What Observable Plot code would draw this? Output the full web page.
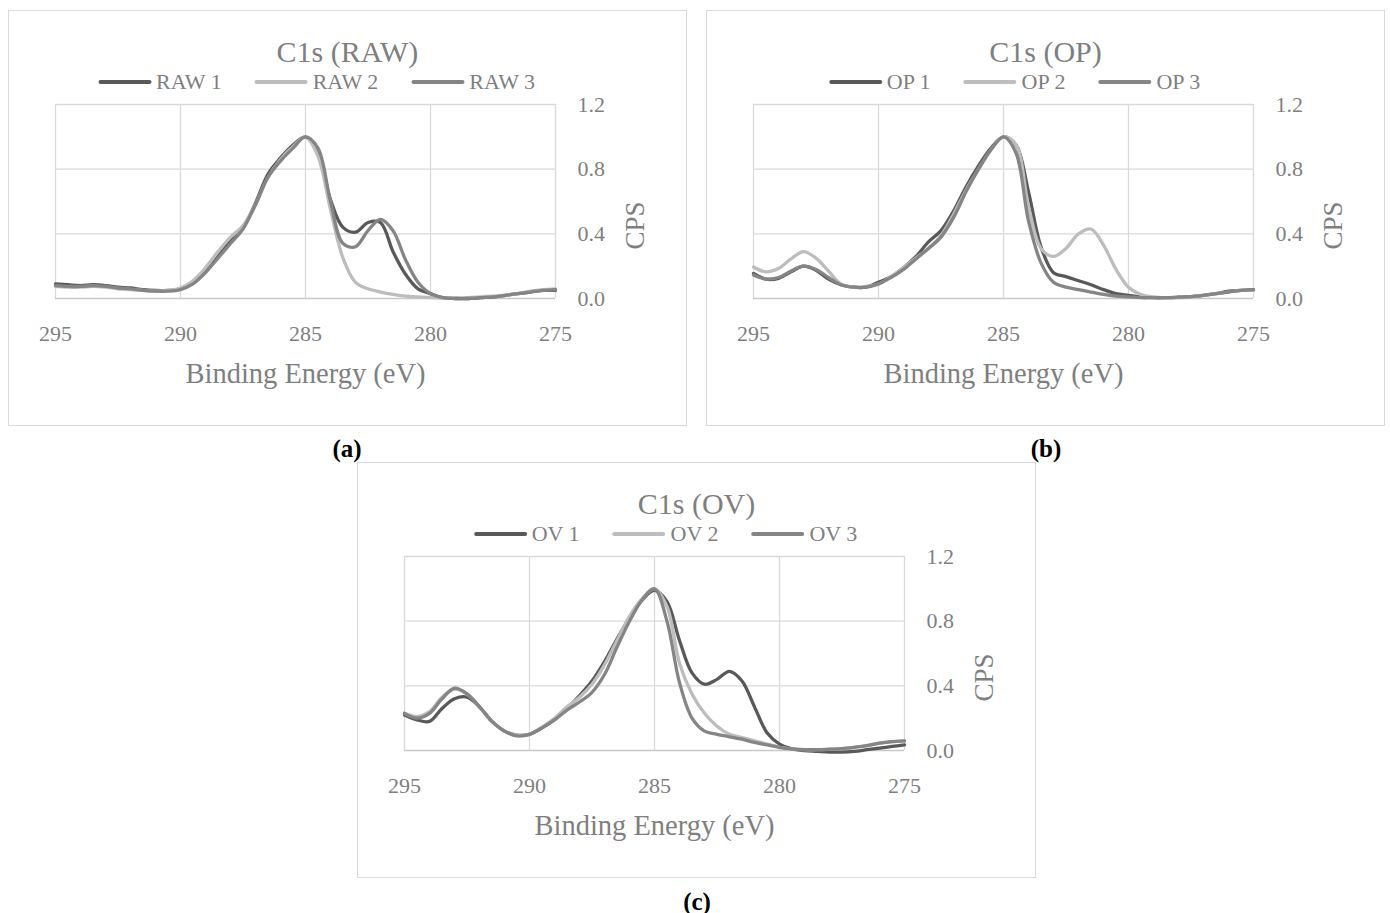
<!DOCTYPE html>
<html>
<head>
<meta charset="utf-8">
<script src="https://cdn.jsdelivr.net/npm/d3@7"></script>
<script src="https://cdn.jsdelivr.net/npm/@observablehq/plot@0.6"></script>
<style>
  body { margin: 0; background: #fff; font-family: "Liberation Serif", serif; }
  #page { position: relative; width: 1390px; height: 913px; background: #fff; }
  .box { position: absolute; box-sizing: border-box; width: 679px; height: 416px; border: 1px solid #d9d9d9; background: #fff; }
  .title { position: absolute; left: 0; right: 0; top: 26px; text-align: center; font-size: 30px; line-height: 30px; color: #7f7f7f; z-index: 2; }
  .legend { position: absolute; top: 60px; left: calc(50% - 31px); transform: translateX(-50%); display: flex; gap: 33px; white-space: nowrap; z-index: 2; }
  .item { display: flex; align-items: center; font-size: 22px; line-height: 22px; color: #7f7f7f; }
  .swatch { width: 53px; height: 4px; margin-right: 5px; border-radius: 2px; }
  .plot { position: absolute; left: 0; top: 0; }
  .cap { position: absolute; font-weight: bold; font-size: 25px; line-height: 25px; color: #000; transform: translateX(-50%); }
</style>
</head>
<body>
<div id="page"></div>
<script>
// ---- data ----
const energy = [295, 294.5, 294, 293.5, 293, 292.5, 292, 291.5, 291, 290.5, 290, 289.5, 289, 288.5, 288, 287.5, 287, 286.5, 286, 285.5, 285, 284.5, 284, 283.5, 283, 282.5, 282, 281.5, 281, 280.5, 280, 279.5, 279, 278.5, 278, 277.5, 277, 276.5, 276, 275.5, 275];
const xTicks = [295, 290, 285, 280, 275];
const yTicks = [0, 0.4, 0.8, 1.2];
const seriesColors = ["#595959", "#bdbdbd", "#858585"];

const rawNames = ["RAW 1", "RAW 2", "RAW 3"];
const raw1 = [0.09, 0.085, 0.08, 0.085, 0.08, 0.07, 0.065, 0.055, 0.05, 0.05, 0.06, 0.10, 0.17, 0.27, 0.36, 0.44, 0.59, 0.77, 0.87, 0.95, 1.0, 0.90, 0.61, 0.44, 0.41, 0.47, 0.47, 0.29, 0.15, 0.06, 0.03, 0.005, 0.0, 0.0, 0.005, 0.01, 0.02, 0.03, 0.04, 0.05, 0.05];
const raw2 = [0.075, 0.07, 0.07, 0.075, 0.07, 0.06, 0.055, 0.05, 0.045, 0.05, 0.065, 0.11, 0.19, 0.29, 0.38, 0.45, 0.58, 0.75, 0.86, 0.94, 1.0, 0.88, 0.55, 0.25, 0.10, 0.06, 0.04, 0.025, 0.015, 0.01, 0.005, 0.003, 0.003, 0.005, 0.01, 0.015, 0.02, 0.03, 0.045, 0.055, 0.06];
const raw3 = [0.08, 0.075, 0.075, 0.08, 0.075, 0.065, 0.06, 0.05, 0.045, 0.045, 0.055, 0.09, 0.16, 0.25, 0.34, 0.43, 0.58, 0.75, 0.85, 0.93, 1.0, 0.93, 0.60, 0.34, 0.32, 0.42, 0.49, 0.42, 0.24, 0.10, 0.03, 0.005, 0.0, 0.0, 0.005, 0.01, 0.02, 0.03, 0.04, 0.05, 0.055];

const opNames = ["OP 1", "OP 2", "OP 3"];
const op1 = [0.155, 0.12, 0.125, 0.165, 0.20, 0.175, 0.12, 0.085, 0.07, 0.07, 0.10, 0.135, 0.19, 0.26, 0.35, 0.42, 0.54, 0.69, 0.82, 0.93, 1.0, 0.95, 0.66, 0.32, 0.16, 0.135, 0.11, 0.085, 0.055, 0.03, 0.02, 0.01, 0.005, 0.005, 0.008, 0.012, 0.02, 0.03, 0.045, 0.05, 0.055];
const op2 = [0.195, 0.165, 0.185, 0.245, 0.29, 0.25, 0.17, 0.09, 0.07, 0.075, 0.09, 0.135, 0.19, 0.25, 0.31, 0.39, 0.52, 0.67, 0.80, 0.92, 1.0, 0.95, 0.57, 0.31, 0.26, 0.31, 0.40, 0.43, 0.33, 0.18, 0.07, 0.025, 0.01, 0.005, 0.005, 0.01, 0.02, 0.03, 0.04, 0.05, 0.05];
const op3 = [0.145, 0.12, 0.13, 0.17, 0.20, 0.18, 0.13, 0.085, 0.07, 0.07, 0.09, 0.13, 0.18, 0.245, 0.31, 0.38, 0.50, 0.66, 0.80, 0.92, 1.0, 0.90, 0.48, 0.22, 0.10, 0.07, 0.055, 0.04, 0.025, 0.015, 0.01, 0.005, 0.005, 0.005, 0.008, 0.012, 0.02, 0.03, 0.04, 0.05, 0.055];

const ovNames = ["OV 1", "OV 2", "OV 3"];
const ov1 = [0.22, 0.19, 0.18, 0.26, 0.32, 0.33, 0.27, 0.18, 0.12, 0.095, 0.10, 0.14, 0.19, 0.26, 0.34, 0.43, 0.55, 0.69, 0.82, 0.93, 0.99, 0.92, 0.68, 0.48, 0.41, 0.44, 0.49, 0.43, 0.27, 0.11, 0.04, 0.01, 0.0, -0.005, -0.01, -0.01, -0.005, 0.005, 0.015, 0.025, 0.035];
const ov2 = [0.23, 0.21, 0.24, 0.33, 0.38, 0.35, 0.27, 0.18, 0.12, 0.095, 0.10, 0.145, 0.20, 0.27, 0.33, 0.41, 0.53, 0.68, 0.83, 0.94, 1.0, 0.89, 0.54, 0.35, 0.23, 0.15, 0.10, 0.08, 0.06, 0.04, 0.02, 0.01, 0.005, 0.005, 0.008, 0.012, 0.02, 0.03, 0.045, 0.055, 0.06];
const ov3 = [0.23, 0.20, 0.23, 0.32, 0.385, 0.35, 0.27, 0.18, 0.12, 0.09, 0.10, 0.14, 0.19, 0.25, 0.30, 0.36, 0.47, 0.64, 0.80, 0.93, 1.0, 0.80, 0.42, 0.20, 0.12, 0.10, 0.085, 0.07, 0.05, 0.035, 0.02, 0.01, 0.005, 0.005, 0.008, 0.012, 0.02, 0.03, 0.045, 0.055, 0.06];

const panels = [
  {title: "C1s (RAW)", names: rawNames, values: [raw1, raw2, raw3], left: 8, top: 10, cap: "(a)", capX: 347, capY: 436},
  {title: "C1s (OP)", names: opNames, values: [op1, op2, op3], left: 706, top: 10, cap: "(b)", capX: 1046, capY: 436},
  {title: "C1s (OV)", names: ovNames, values: [ov1, ov2, ov3], left: 357, top: 462, cap: "(c)", capX: 697, capY: 889}
];

const page = document.getElementById("page");

function makeChart(p) {
  const rows = [];
  p.values.forEach((vals, s) => vals.forEach((v, i) => rows.push({E: energy[i], v, name: p.names[s]})));
  return Plot.plot({
    width: 677, height: 414,
    marginLeft: 46, marginRight: 131, marginTop: 93, marginBottom: 127,
    style: {fontFamily: "'Liberation Serif', serif", fontSize: "22px", color: "#7f7f7f", background: "transparent", overflow: "visible"},
    x: {domain: [295, 275], ticks: xTicks, tickSize: 0, tickPadding: 27, label: null, tickFormat: d => String(d)},
    y: {domain: [0, 1.2], ticks: yTicks, tickSize: 0, tickPadding: 22, label: null, axis: "right", tickFormat: d3.format(".1f")},
    color: {domain: p.names, range: seriesColors},
    marks: [
      Plot.ruleX(xTicks, {stroke: "#d9d9d9", strokeWidth: 1.3}),
      Plot.ruleY(yTicks.slice(1), {stroke: "#d9d9d9", strokeWidth: 1.3}),
      Plot.ruleY([0], {stroke: "#c8c8c8", strokeWidth: 1.5}),
      Plot.line(rows, {x: "E", y: "v", z: "name", stroke: "name", strokeWidth: 3.3, curve: "catmull-rom"}),
      Plot.text(["Binding Energy (eV)"], {frameAnchor: "bottom", dy: 84, lineAnchor: "bottom", fontSize: 28.5, fill: "#7f7f7f"}),
      Plot.text(["CPS"], {frameAnchor: "right", dx: 88, rotate: -90, lineAnchor: "bottom", fontSize: 27, fill: "#7f7f7f"})
    ]
  });
}

panels.forEach(p => {
  const box = document.createElement("div");
  box.className = "box";
  box.style.left = p.left + "px";
  box.style.top = p.top + "px";

  const chart = makeChart(p);
  chart.classList.add("plot");
  box.appendChild(chart);

  const t = document.createElement("div");
  t.className = "title";
  t.textContent = p.title;
  box.appendChild(t);

  const lg = document.createElement("div");
  lg.className = "legend";
  p.names.forEach((n, i) => {
    const it = document.createElement("div");
    it.className = "item";
    const sw = document.createElement("span");
    sw.className = "swatch";
    sw.style.background = seriesColors[i];
    const tx = document.createElement("span");
    tx.textContent = n;
    it.appendChild(sw);
    it.appendChild(tx);
    lg.appendChild(it);
  });
  box.appendChild(lg);
  page.appendChild(box);

  const cap = document.createElement("div");
  cap.className = "cap";
  cap.style.left = p.capX + "px";
  cap.style.top = p.capY + "px";
  cap.textContent = p.cap;
  page.appendChild(cap);
});
</script>
</body>
</html>
